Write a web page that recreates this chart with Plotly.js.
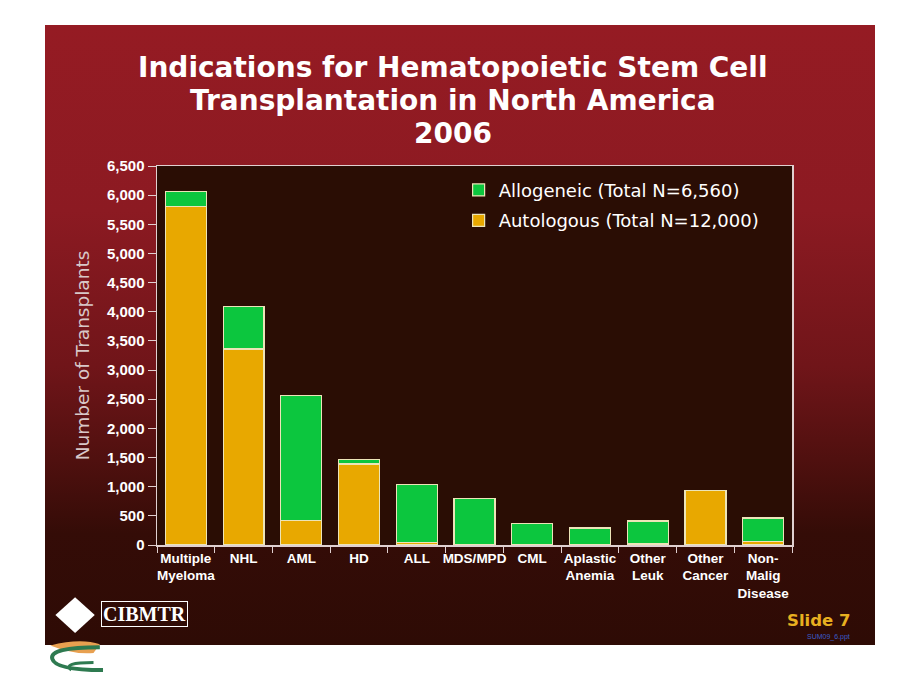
<!DOCTYPE html>
<html><head><meta charset="utf-8">
<script src="https://cdn.plot.ly/plotly-3.0.1.min.js"></script>
<style>
html,body{margin:0;padding:0;background:#fff;}
#wrap{position:relative;width:920px;height:690px;}
#slide{position:absolute;left:45px;top:25px;width:830px;height:620px;
background:linear-gradient(to bottom,#951b23 0%,#8c1a22 30%,#701519 55%,#50100f 70%,#340c07 82%,#2e0b05 100%);}
#chart{position:absolute;left:0;top:0;width:920px;height:690px;}
</style></head>
<body><div id="wrap"><div id="slide"></div><div id="chart"></div></div>
<script>
const categories = ["Multiple<br>Myeloma","NHL","AML","HD","ALL","MDS/MPD","CML","Aplastic<br>Anemia","Other<br>Leuk","Other<br>Cancer","Non-<br>Malig<br>Disease"];
const autologous = [5800,3360,420,1390,40,0,0,0,25,930,63];
const allogeneic = [260,730,2140,70,995,800,372,292,387,0,400];
const yTicks = [0,500,1000,1500,2000,2500,3000,3500,4000,4500,5000,5500,6000,6500];
const yTickText = ["0","500","1,000","1,500","2,000","2,500","3,000","3,500","4,000","4,500","5,000","5,500","6,000","6,500"];
const titleLines = ["Indications for Hematopoietic Stem Cell","Transplantation in North America","2006"];

const narrowBold = "Liberation Sans Narrow, Arial Narrow, sans-serif";
const outline = {color:"#ece4b8", width:1.2};

const data = [
  {type:"bar", name:"Autologous (Total N=12,000)", legendgroup:"a", legendrank:2, x:categories, y:autologous,
   marker:{color:"#e8a800", line:outline}},
  {type:"bar", name:"Allogeneic (Total N=6,560)", legendgroup:"b", legendrank:1, x:categories, y:allogeneic,
   marker:{color:"#0cc63e", line:outline}}
];

const titleY = [1.2586, 1.174, 1.087];
const annotations = titleLines.map((t,i)=>({xref:"paper", yref:"paper", x:0.466, y:titleY[i], xanchor:"center", yanchor:"middle",
  showarrow:false, text:"<b>"+t+"</b>", font:{family:"DejaVu Sans, Verdana, sans-serif", size:28, color:"#ffffff"}}));
annotations.push(
  {xref:"paper", yref:"paper", x:1.094, y:-0.2, xanchor:"right", yanchor:"middle", showarrow:false,
   text:"<b>Slide 7</b>", font:{family:"DejaVu Sans, Verdana, sans-serif", size:16.5, color:"#e8b020"}},
  {xref:"paper", yref:"paper", x:1.094, y:-0.243, xanchor:"right", yanchor:"middle", showarrow:false,
   text:"SUM09_6.ppt", font:{family:"Liberation Sans, Arial, sans-serif", size:7, color:"#3a5cc8"}},
  {xref:"paper", yref:"paper", x:-0.02, y:-0.182, xanchor:"center", yanchor:"middle", showarrow:false,
   text:"<b>CIBMTR</b>", font:{family:"Liberation Serif, Times New Roman, serif", size:20, color:"#ffffff"},
   bordercolor:"#ffffff", borderwidth:1, borderpad:1}
);

const layout = {
  width:920, height:690,
  paper_bgcolor:"rgba(0,0,0,0)", plot_bgcolor:"#2a0d04",
  margin:{l:157, r:128, t:166, b:145},
  barmode:"stack", bargap:0.29,
  xaxis:{type:"category", tickson:"boundaries", ticks:"outside", ticklen:6, tickcolor:"#e0d0d0", tickangle:0,
    showline:true, linecolor:"#e0d0d0", linewidth:1.5, mirror:true,
    tickfont:{family:narrowBold, size:13.5, color:"#ffffff", weight:"bold"}, showgrid:false, fixedrange:true},
  yaxis:{range:[0,6500], tickvals:yTicks, ticktext:yTickText, ticks:"outside", ticklen:8, tickcolor:"#e0d0d0",
    showline:true, linecolor:"#e0d0d0", linewidth:1.5, mirror:true, showgrid:false, zeroline:false,
    tickfont:{family:narrowBold, size:15, color:"#ffffff", weight:"bold"},
    title:{text:"Number of Transplants", font:{family:"DejaVu Sans, Verdana, sans-serif", size:18.5, color:"#d8c8c8"}, standoff:12}},
  legend:{x:0.475, y:0.985, xanchor:"left", yanchor:"top", bgcolor:"rgba(0,0,0,0)", traceorder:"grouped",
    font:{family:"DejaVu Sans, Verdana, sans-serif", size:18, color:"#ffffff"}, itemwidth:30, tracegroupgap:4},
  annotations:annotations,
  shapes:[
    {type:"path", xref:"paper", yref:"paper", path:"M -0.16 -0.185 L -0.129 -0.138 L -0.098 -0.185 L -0.129 -0.232 Z",
     fillcolor:"#ffffff", line:{width:0}},
    {type:"path", xref:"paper", yref:"paper", path:"M -0.168 -0.265 Q -0.12 -0.245 -0.09 -0.262 L -0.1 -0.285 Q -0.13 -0.29 -0.168 -0.265 Z",
     fillcolor:"#e8a050", line:{width:0}},
    {type:"path", xref:"paper", yref:"paper", path:"M -0.09 -0.27 Q -0.17 -0.27 -0.165 -0.3 Q -0.16 -0.33 -0.085 -0.33",
     line:{color:"#2e7a50", width:4}},
    {type:"path", xref:"paper", yref:"paper", path:"M -0.1 -0.31 Q -0.15 -0.31 -0.135 -0.33",
     line:{color:"#2e7a50", width:3}}
  ],
  showlegend:true
};
Plotly.newPlot("chart", data, layout, {displayModeBar:false, staticPlot:true});
</script></body></html>
